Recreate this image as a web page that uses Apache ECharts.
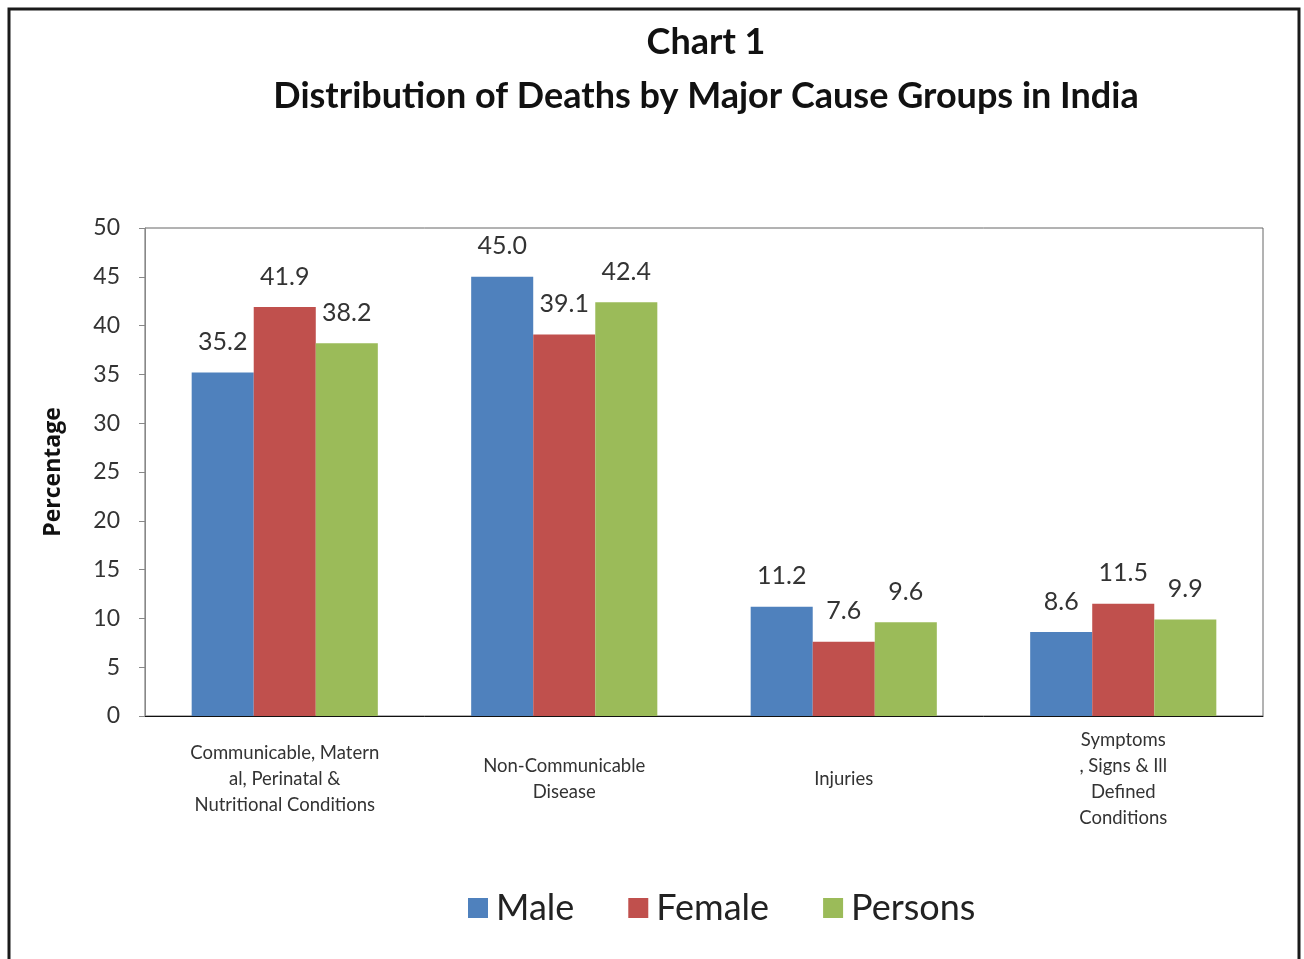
<!DOCTYPE html>
<html><head><meta charset="utf-8">
<script src="https://cdn.jsdelivr.net/npm/echarts@6/dist/echarts.min.js"></script>
<style>html,body{margin:0;padding:0;background:#fff}#c{width:1304px;height:959px}</style>
</head><body><div id="c"></div>
<script>
const categories = [
  'Communicable, Matern\nal, Perinatal &\nNutritional Conditions',
  'Non-Communicable\nDisease',
  'Injuries',
  'Symptoms\n, Signs & Ill\nDefined\nConditions'
];
const male = [35.2, 45.0, 11.2, 8.6];
const female = [41.9, 39.1, 7.6, 11.5];
const persons = [38.2, 42.4, 9.6, 9.9];
const seriesNames = ['Male', 'Female', 'Persons'];
const colors = ['#4F81BD', '#C0504D', '#9BBB59'];
const yTicks = { min: 0, max: 50, interval: 5 };

const FONT = 'Lato, "Open Sans", sans-serif';
const chart = echarts.init(document.getElementById('c'));
const mk = (name, data, color) => ({
  name, type: 'bar', data, barGap: '0%', barCategoryGap: '33.4%',
  itemStyle: { color },
  label: { show: true, position: 'top', distance: 18, formatter: p => p.value.toFixed(1),
           color: '#333', fontSize: 25, fontFamily: FONT }
});
chart.setOption({
  backgroundColor: '#fff',
  animation: false,
  textStyle: { fontFamily: FONT },
  graphic: [{ type: 'rect', shape: { x: 9, y: 9, width: 1290, height: 980 },
              style: { fill: 'none', stroke: '#1a1a1a', lineWidth: 3 } }],
  title: {
    text: 'Chart 1\nDistribution of Deaths by Major Cause Groups in India',
    left: 701, top: 10, textAlign: 'center',
    textStyle: { fontSize: 36, fontWeight: 'bold', color: '#111', lineHeight: 54, fontFamily: FONT }
  },
  legend: {
    bottom: 28, left: 463, itemWidth: 20, itemHeight: 20, itemGap: 54,
    icon: 'rect',
    textStyle: { fontSize: 36, color: '#222', fontFamily: FONT, padding: [0, 0, 0, 3] },
    data: seriesNames
  },
  grid: { left: 145, right: 41, top: 228, bottom: 243, show: true, borderColor: '#666', borderWidth: 1 },
  xAxis: {
    type: 'category', data: categories,
    axisLine: { lineStyle: { color: '#111', width: 1 } },
    axisTick: { show: false },
    axisLabel: { interval: 0, margin: 63, fontSize: 18.5, lineHeight: 26, color: '#333', fontFamily: FONT, verticalAlign: 'middle' }
  },
  yAxis: {
    type: 'value', min: yTicks.min, max: yTicks.max, interval: yTicks.interval,
    name: 'Percentage', nameLocation: 'middle', nameGap: 80,
    nameTextStyle: { fontSize: 23, fontWeight: 'bold', color: '#111', fontFamily: '"Open Sans", sans-serif' },
    splitLine: { show: false },
    axisLine: { show: true, lineStyle: { color: '#888' } },
    axisTick: { show: true, length: 6, lineStyle: { color: '#888' } },
    axisLabel: { fontSize: 23, color: '#333', margin: 25, fontFamily: FONT }
  },
  series: [mk(seriesNames[0], male, colors[0]), mk(seriesNames[1], female, colors[1]), mk(seriesNames[2], persons, colors[2])]
});
</script></body></html>
